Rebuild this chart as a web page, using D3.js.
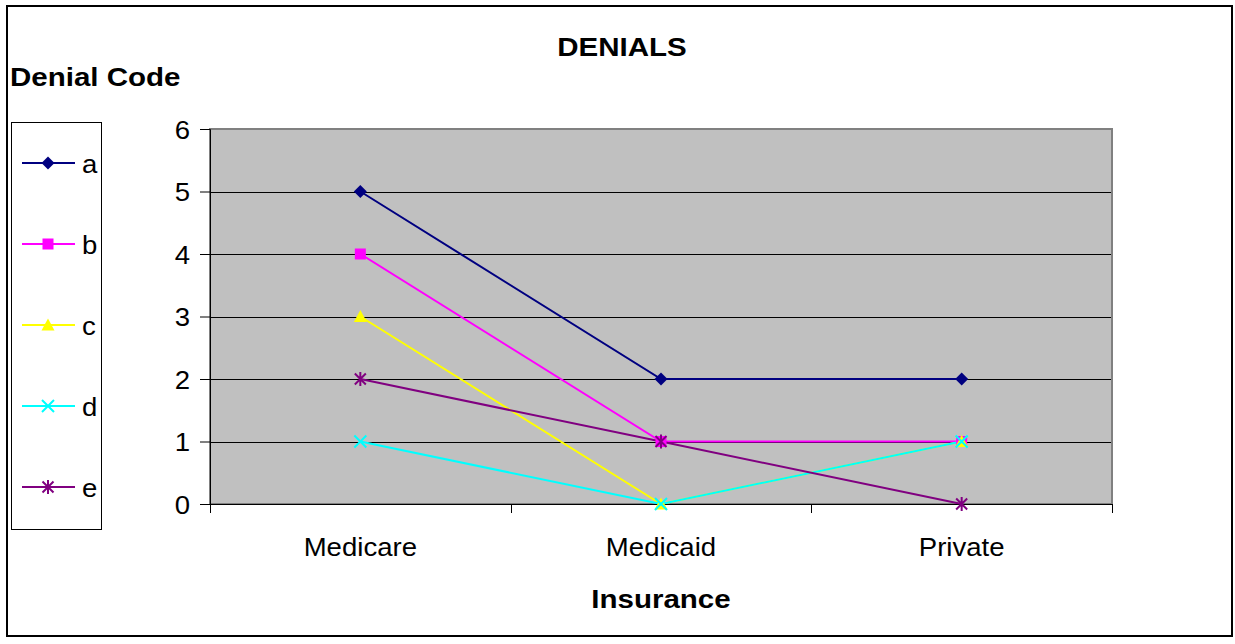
<!DOCTYPE html>
<html>
<head>
<meta charset="utf-8">
<script src="https://cdn.jsdelivr.net/npm/d3@7"></script>
<style>
  html, body { margin: 0; padding: 0; background: #fff; }
  svg { display: block; font-family: Arial, "Liberation Sans", sans-serif; }
</style>
</head>
<body>
<svg id="chart" width="1235" height="644"></svg>
<script>
// Denials by insurance type, one line per denial code
const categories = ["Medicare", "Medicaid", "Private"];
const seriesNames = ["a", "b", "c", "d", "e"];
const seriesA = [5, 2, 2];
const seriesB = [4, 1, 1];
const seriesC = [3, 0, 1];
const seriesD = [1, 0, 1];
const seriesE = [2, 1, 0];
const yTicks = [0, 1, 2, 3, 4, 5, 6];

const colors = ["#000080", "#FF00FF", "#FFFF00", "#00FFFF", "#800080"];
const markers = ["diamond", "square", "triangle", "x", "star"];
const seriesValues = [seriesA, seriesB, seriesC, seriesD, seriesE];

const series = seriesNames.map((name, i) => ({
  name, values: seriesValues[i], color: colors[i], marker: markers[i]
}));

const svg = d3.select("#chart");
const plot = { left: 210, right: 1112, top: 129, bottom: 504 };

// text styles: the chart's fonts render a little wider than Arial
const REG = { size: 26, weight: "normal", sx: 1.06 };
const BOLD = { size: 25, weight: "bold", sx: 1.18 };

function label(parent, x, y, str, style, anchor) {
  return parent.append("text")
    .attr("transform", `translate(${x},${y}) scale(${style.sx},1)`)
    .attr("text-anchor", anchor || "start")
    .attr("font-size", style.size)
    .attr("font-weight", style.weight)
    .attr("fill", "#000")
    .text(str);
}

// outer frame
svg.append("rect")
  .attr("x", 7).attr("y", 6).attr("width", 1225).attr("height", 630)
  .attr("fill", "#fff").attr("stroke", "#000").attr("stroke-width", 2);

const x = d3.scaleBand().domain(categories).range([plot.left, plot.right]);
const y = d3.scaleLinear().domain([0, 6]).range([plot.bottom, plot.top]);

// plot background
svg.append("rect")
  .attr("x", plot.left).attr("y", plot.top)
  .attr("width", plot.right - plot.left).attr("height", plot.bottom - plot.top)
  .attr("fill", "#C0C0C0");

// horizontal gridlines
svg.append("g").selectAll("line").data(yTicks.filter(t => t > 0 && t < 6)).join("line")
  .attr("x1", plot.left).attr("x2", plot.right)
  .attr("y1", d => Math.round(y(d)) + 0.5).attr("y2", d => Math.round(y(d)) + 0.5)
  .attr("stroke", "#000").attr("stroke-width", 1);

// plot border (gray)
svg.append("rect")
  .attr("x", plot.left).attr("y", plot.top)
  .attr("width", plot.right - plot.left).attr("height", plot.bottom - plot.top)
  .attr("fill", "none").attr("stroke", "#808080").attr("stroke-width", 2);

// y axis
const yAxis = d3.axisLeft(y).tickValues(yTicks).tickSize(10).tickFormat(() => "");
const gy = svg.append("g").attr("transform", `translate(${plot.left},0)`).call(yAxis);
gy.select(".domain").attr("stroke", "#000");
gy.selectAll(".tick line").attr("stroke", "#000");
yTicks.forEach(t => label(svg, 190, y(t) + 9.5, d3.format("d")(t), REG, "end"));

// x axis: line along the bottom, ticks at category boundaries
const gx = svg.append("g").attr("transform", `translate(0,${plot.bottom})`);
gx.append("line").attr("x1", plot.left).attr("x2", plot.right)
  .attr("y1", 0.5).attr("y2", 0.5).attr("stroke", "#000");
const boundaries = categories.map(c => x(c)).concat([x(categories[categories.length - 1]) + x.bandwidth()]);
gx.selectAll("line.tk").data(boundaries).join("line").attr("class", "tk")
  .attr("x1", d => Math.round(d) + 0.5).attr("x2", d => Math.round(d) + 0.5)
  .attr("y1", 0).attr("y2", 9).attr("stroke", "#000");
categories.forEach(c => label(svg, x(c) + x.bandwidth() / 2, 556, c, REG, "middle"));

// marker shapes
function drawMarker(g, type, color) {
  if (type === "diamond") {
    const s = 6.5;
    g.append("path").attr("d", `M0,${-s}L${s},0L0,${s}L${-s},0Z`).attr("fill", color);
  } else if (type === "square") {
    const s = 5.5;
    g.append("rect").attr("x", -s).attr("y", -s)
      .attr("width", 2 * s).attr("height", 2 * s).attr("fill", color);
  } else if (type === "triangle") {
    const s = 6.5;
    g.append("path").attr("d", `M0,${-s}L${s},${s * 0.85}L${-s},${s * 0.85}Z`).attr("fill", color);
  } else if (type === "x") {
    const s = 6;
    g.append("path").attr("d", `M${-s},${-s}L${s},${s}M${-s},${s}L${s},${-s}`)
      .attr("stroke", color).attr("stroke-width", 2).attr("fill", "none");
  } else if (type === "star") {
    const s = 5.5;
    g.append("path").attr("d", `M${-s},${-s}L${s},${s}M${-s},${s}L${s},${-s}M0,${-s - 1.5}L0,${s + 1.5}`)
      .attr("stroke", color).attr("stroke-width", 2).attr("fill", "none");
  }
}

const cx = c => x(c) + x.bandwidth() / 2;
const line = d3.line().x((d, i) => cx(categories[i])).y(d => y(d));

const gLines = svg.append("g");
series.forEach(s => {
  gLines.append("path").datum(s.values)
    .attr("d", line).attr("fill", "none")
    .attr("stroke", s.color).attr("stroke-width", 2);
});
series.forEach(s => {
  s.values.forEach((v, i) => {
    const g = gLines.append("g").attr("transform", `translate(${cx(categories[i])},${y(v)})`);
    drawMarker(g, s.marker, s.color);
  });
});

// titles
label(svg, 622, 56, "DENIALS", BOLD, "middle");
label(svg, 10, 86, "Denial Code", BOLD, "start");
label(svg, 661, 608, "Insurance", BOLD, "middle");

// legend
const legend = svg.append("g");
legend.append("rect").attr("x", 11.5).attr("y", 122.5).attr("width", 90).attr("height", 407)
  .attr("fill", "#fff").attr("stroke", "#000").attr("stroke-width", 1);
const legendY = d3.scalePoint().domain(seriesNames).range([163, 487]);
series.forEach(s => {
  const ly = legendY(s.name);
  legend.append("line").attr("x1", 22).attr("x2", 75).attr("y1", ly).attr("y2", ly)
    .attr("stroke", s.color).attr("stroke-width", 2);
  const g = legend.append("g").attr("transform", `translate(48,${ly})`);
  drawMarker(g, s.marker, s.color);
  label(legend, 82, ly + 10, s.name, REG, "start");
});
</script>
</body>
</html>
